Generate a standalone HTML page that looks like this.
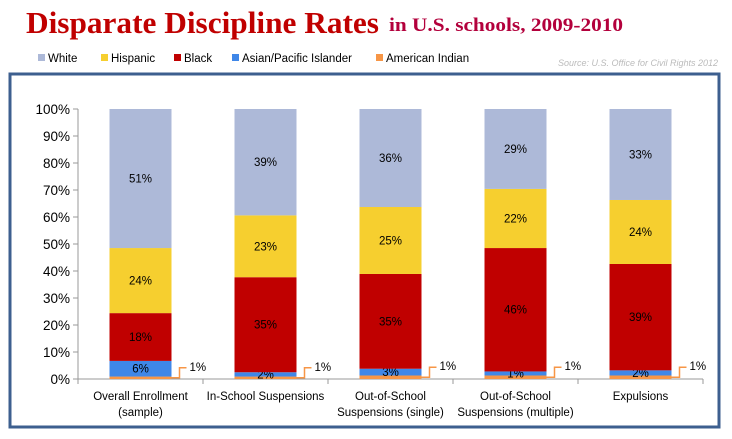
<!DOCTYPE html>
<html><head><meta charset="utf-8"><style>
body{margin:0;width:732px;height:434px;background:#fff;overflow:hidden;font-family:"Liberation Sans",sans-serif}
</style></head><body>
<svg width="732" height="434" xmlns="http://www.w3.org/2000/svg">
<text x="26" y="33" font-family="Liberation Serif" font-weight="bold" font-size="31" fill="#c00000" textLength="353" lengthAdjust="spacingAndGlyphs">Disparate Discipline Rates</text>
<text x="389" y="31" font-family="Liberation Serif" font-weight="bold" font-size="19" fill="#b3003c" textLength="234" lengthAdjust="spacingAndGlyphs">in U.S. schools, 2009-2010</text>
<g id="legend" font-size="11.5" fill="#000"></g>
<text x="718" y="66" text-anchor="end" font-size="9" font-style="italic" fill="#bbb">Source: U.S. Office for Civil Rights 2012</text>
<rect x="10" y="74" width="709" height="353" fill="none" stroke="#3d5f8f" stroke-width="3"/>
<g id="plot"></g>
</svg>
<script>
const categories=["Overall Enrollment|(sample)","In-School Suspensions","Out-of-School|Suspensions (single)","Out-of-School|Suspensions (multiple)","Expulsions"];
const seriesNames=["American Indian","Asian/Pacific Islander","Black","Hispanic","White"];
const americanIndian=[0.9,0.9,1.3,1.3,1.3];
const asian=[5.8,1.6,2.5,1.5,1.9];
const black=[17.7,35.2,35.1,45.7,39.4];
const hispanic=[24.1,22.9,24.8,21.9,23.7];
const white=[51.5,39.4,36.3,29.6,33.7];
const labelsAsian=["6%","2%","3%","1%","2%"];
const labelsBlack=["18%","35%","35%","46%","39%"];
const labelsHispanic=["24%","23%","25%","22%","24%"];
const labelsWhite=["51%","39%","36%","29%","33%"];
const labelsAI=["1%","1%","1%","1%","1%"];
const yTicks=[0,10,20,30,40,50,60,70,80,90,100];
const colors=["#f79646","#3f87e8","#c00000","#f6cf2f","#adb9d8"];
const NS="http://www.w3.org/2000/svg";
const x0=78,x1=703,y0=379,y1=109;
const band=(x1-x0)/categories.length, barW=62;
const Y=v=>y0-(v/100)*(y0-y1);
const X=i=>x0+band*i+band/2;
function mk(t,a,p){const e=document.createElementNS(NS,t);for(const k in a)e.setAttribute(k,a[k]);(p||plot).appendChild(e);return e;}
const plot=document.getElementById('plot');
const leg=document.getElementById('legend');
const legOrder=[4,3,2,1,0];const legX=[38,101,174,232,376];
legOrder.forEach((s,j)=>{
 const r=mk('rect',{x:legX[j],y:54,width:7,height:7,fill:colors[s]},leg);
 
 
 const t=mk('text',{x:legX[j]+10,y:62},leg);t.textContent=seriesNames[s];
 
 
});
const ya=mk('line',{x1:x0,y1:Y(0),x2:x0,y2:Y(100),stroke:'#999'});


yTicks.forEach(v=>{
 mk('line',{x1:x0-5,y1:Y(v),x2:x0,y2:Y(v),stroke:'#999'});
 const t=mk('text',{x:70,y:Y(v)+5,'text-anchor':'end','font-size':13.5});t.textContent=v+'%';
 
 
});
const xa=mk('line',{x1:x0,y1:y0,x2:x1,y2:y0,stroke:'#999'});


for(let i=0;i<=categories.length;i++)mk('line',{x1:x0+band*i,y1:y0,x2:x0+band*i,y2:y0+5,stroke:'#999'});
const series=[americanIndian,asian,black,hispanic,white];
const labels=[null,labelsAsian,labelsBlack,labelsHispanic,labelsWhite];
categories.forEach((c,i)=>{
 let cum=0;const cx=X(i);
 series.forEach((s,k)=>{
  const v=s[i];
  const r=mk('rect',{x:cx-barW/2,y:Y(cum+v),width:barW,height:Y(cum)-Y(cum+v),fill:colors[k]});
  
  
  if(labels[k]){const t=mk('text',{x:cx,y:(Y(cum)+Y(cum+v))/2+4,'text-anchor':'middle','font-size':11.5});t.textContent=labels[k][i];
   
   }
  cum+=v;
 });
 const bx=cx+barW/2, by=Y(americanIndian[i]/2);
 mk('polyline',{points:`${bx},${by} ${bx+8},${by} ${bx+8},${by-10} ${bx+15},${by-10}`,fill:'none',stroke:'#f79646','stroke-width':1.5});
 const t=mk('text',{x:bx+18,y:by-7,'font-size':11.5});t.textContent=labelsAI[i];
 
 
 c.split('|').forEach((ln,j)=>{const tt=mk('text',{x:cx,y:400+j*16,'text-anchor':'middle','font-size':11.5});tt.textContent=ln;
  
  });
});
</script>
</body></html>
